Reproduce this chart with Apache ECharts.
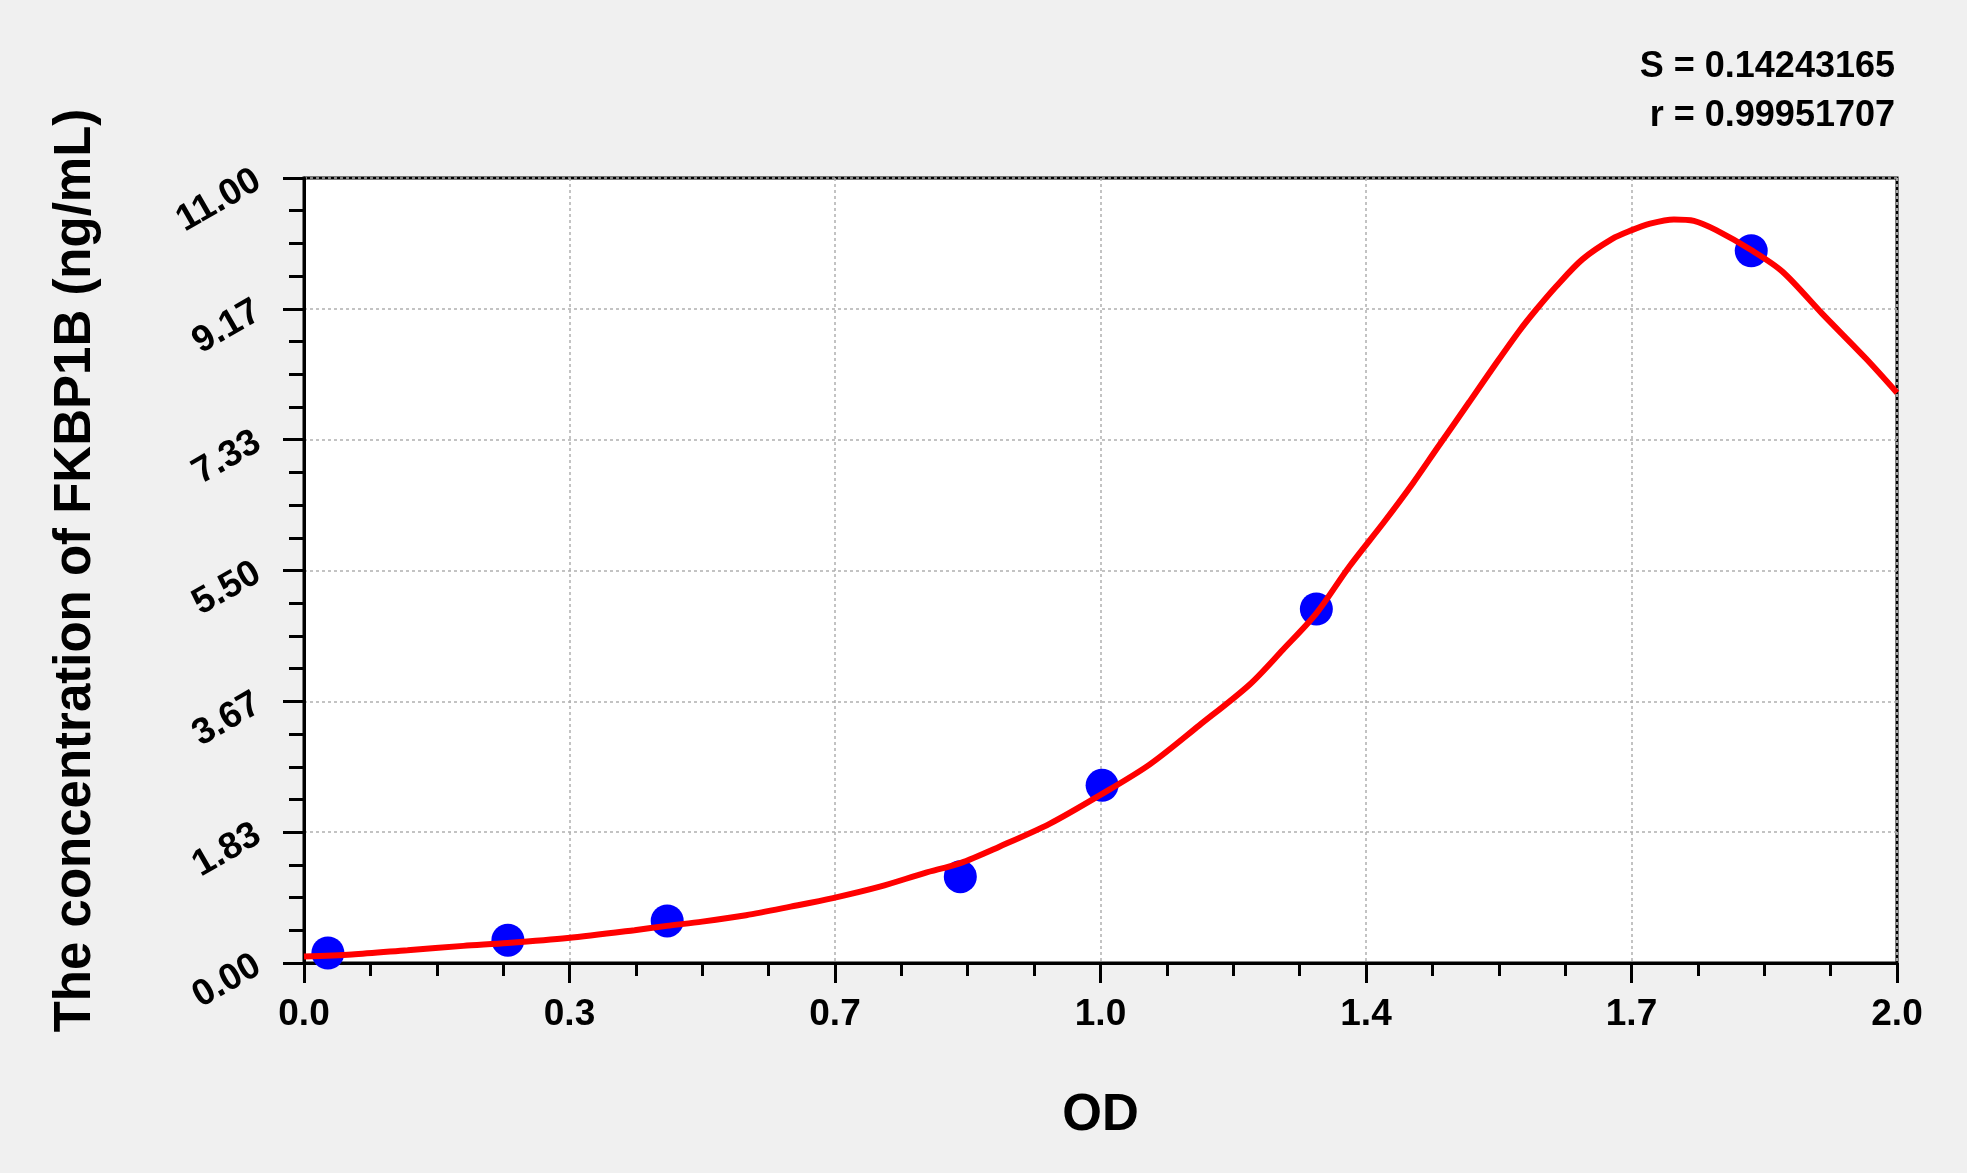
<!DOCTYPE html>
<html>
<head>
<meta charset="utf-8">
<script src="https://cdn.jsdelivr.net/npm/echarts@6/dist/echarts.min.js"></script>
<style>
html,body{margin:0;padding:0;background:#f0f0f0;}
#chart{width:1967px;height:1173px;}
</style>
</head>
<body>
<div id="chart"></div>
<script>
// ---- data ----
const xTickLabels = ['0.0', '0.3', '0.7', '1.0', '1.4', '1.7', '2.0'];
const yTickLabels = ['0.00', '1.83', '3.67', '5.50', '7.33', '9.17', '11.00'];

const stdOD   = [0.030, 0.256, 0.456, 0.824, 1.002, 1.271, 1.817];
const stdConc = [0.14, 0.32, 0.59, 1.21, 2.49, 4.96, 9.98];

const curveOD = [0, 0.06, 0.13, 0.20, 0.2555, 0.331, 0.415, 0.4555, 0.50, 0.555, 0.611, 0.664, 0.723, 0.779, 0.824,
  0.873, 0.936, 0.9975, 1.0615, 1.124, 1.187, 1.229, 1.271, 1.312, 1.356, 1.392, 1.423, 1.463, 1.4965, 1.526,
  1.5466, 1.572, 1.605, 1.643, 1.665, 1.69, 1.72, 1.745, 1.773, 1.817, 1.856, 1.906, 1.961, 2.0];
const curveConc = [0.09, 0.12, 0.18, 0.24, 0.28, 0.35, 0.46, 0.52, 0.58, 0.67, 0.79, 0.91, 1.07, 1.26, 1.40,
  1.63, 1.95, 2.34, 2.78, 3.33, 3.90, 4.39, 4.90, 5.55, 6.18, 6.72, 7.22, 7.86, 8.40, 8.86,
  9.15, 9.48, 9.86, 10.15, 10.26, 10.36, 10.42, 10.40, 10.27, 9.99, 9.69, 9.10, 8.47, 7.99];

const statLines = ['S = 0.14243165', 'r = 0.99951707'];
const xTitle = 'OD';
const yTitle = 'The concentration of FKBP1B (ng/mL)';

// ---- chart ----
const xInterval = 2 / 6;
const yInterval = 11 / 6;
const FONT = 'Liberation Sans, Arial, sans-serif';

const chart = echarts.init(document.getElementById('chart'));
chart.setOption({
  backgroundColor: '#f0f0f0',
  animation: false,
  grid: {
    left: 304, right: 70, top: 178, bottom: 210,
    show: true, backgroundColor: '#ffffff', borderColor: '#000', borderWidth: 3,
    outerBoundsMode: 'none'
  },
  xAxis: {
    type: 'value', min: 0, max: 2, interval: xInterval,
    name: xTitle, nameLocation: 'middle', nameGap: 127,
    nameTextStyle: { fontFamily: FONT, fontWeight: 'bold', fontSize: 51, color: '#000' },
    axisLine: { show: true, onZero: false, lineStyle: { color: '#000', width: 3 } },
    axisTick: { show: true, inside: false, length: 20, lineStyle: { color: '#000', width: 3 } },
    minorTick: { show: true, splitNumber: 4, length: 13, lineStyle: { color: '#000', width: 3 } },
    axisLabel: {
      margin: 33, fontFamily: FONT, fontWeight: 'bold', fontSize: 37, color: '#000',
      formatter: v => xTickLabels[Math.round(v / xInterval)] ?? ''
    },
    splitLine: { show: true, lineStyle: { color: '#b0b0b0', width: 1.5, type: [3, 3] } }
  },
  yAxis: {
    type: 'value', min: 0, max: 11, interval: yInterval,
    name: yTitle, nameLocation: 'middle', nameGap: 203, nameRotate: 90,
    nameTextStyle: { fontFamily: FONT, fontWeight: 'bold', fontSize: 51, color: '#000' },
    axisLine: { show: true, onZero: false, lineStyle: { color: '#000', width: 3 } },
    axisTick: { show: true, inside: false, length: 21, lineStyle: { color: '#000', width: 3 } },
    minorTick: { show: true, splitNumber: 4, length: 15, lineStyle: { color: '#000', width: 3 } },
    axisLabel: {
      margin: 46, rotate: 30, fontFamily: FONT, fontWeight: 'bold', fontSize: 37, color: '#000',
      formatter: v => yTickLabels[Math.round(v / yInterval)] ?? ''
    },
    splitLine: { show: true, lineStyle: { color: '#b0b0b0', width: 1.5, type: [3, 3] } }
  },
  graphic: statLines.map((t, i) => ({
    type: 'text', right: 72, top: 49 + i * 49,
    style: { text: t, fontFamily: FONT, fontWeight: 'bold', fontSize: 36, fill: '#000', textAlign: 'right' }
  })),
  series: [
    {
      type: 'scatter', z: 2,
      data: stdOD.map((x, i) => [x, stdConc[i]]),
      symbol: 'circle', symbolSize: 33,
      itemStyle: { color: '#0000ff', opacity: 1 }
    },
    {
      type: 'line', z: 3,
      data: curveOD.map((x, i) => [x, curveConc[i]]),
      showSymbol: false, smooth: 0.3,
      lineStyle: { color: '#ff0000', width: 6 }
    }
  ]
});
</script>
</body>
</html>
